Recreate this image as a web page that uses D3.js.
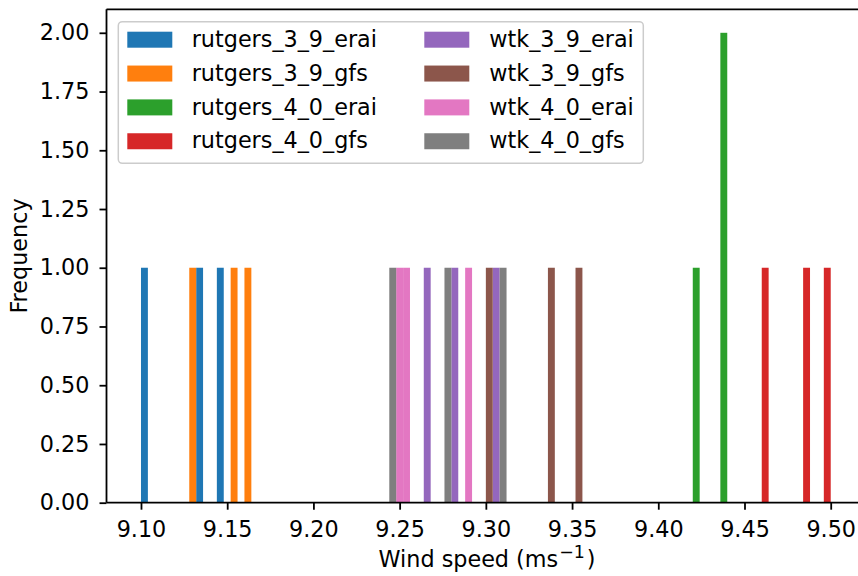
<!DOCTYPE html>
<html>
<head>
<meta charset="utf-8">
<script src="https://cdn.jsdelivr.net/npm/d3@7/dist/d3.min.js"></script>
<style>
  html, body { margin: 0; padding: 0; background: #ffffff; }
  svg { display: block; font-family: "DejaVu Sans", sans-serif; }
</style>
</head>
<body>
<div id="chart"></div>
<script>
// ---- Data (wind speeds, m/s) ----
const seriesNames = [
  "rutgers_3_9_erai", "rutgers_3_9_gfs", "rutgers_4_0_erai", "rutgers_4_0_gfs",
  "wtk_3_9_erai", "wtk_3_9_gfs", "wtk_4_0_erai", "wtk_4_0_gfs"
];
const rutgers_3_9_erai = [9.102, 9.134, 9.146];
const rutgers_3_9_gfs  = [9.130, 9.154, 9.162];
const rutgers_4_0_erai = [9.422, 9.438, 9.438];
const rutgers_4_0_gfs  = [9.462, 9.486, 9.498];
const wtk_3_9_erai     = [9.266, 9.282, 9.306];
const wtk_3_9_gfs      = [9.302, 9.338, 9.354];
const wtk_4_0_erai     = [9.250, 9.254, 9.290];
const wtk_4_0_gfs      = [9.246, 9.278, 9.310];
const seriesValues = [
  rutgers_3_9_erai, rutgers_3_9_gfs, rutgers_4_0_erai, rutgers_4_0_gfs,
  wtk_3_9_erai, wtk_3_9_gfs, wtk_4_0_erai, wtk_4_0_gfs
];
const colors = ["#1f77b4", "#ff7f0e", "#2ca02c", "#d62728",
                "#9467bd", "#8c564b", "#e377c2", "#7f7f7f"];
const binMin = 9.10, binMax = 9.50, binCount = 100;
const xTicks = [9.10, 9.15, 9.20, 9.25, 9.30, 9.35, 9.40, 9.45, 9.50];
const yTicks = [0, 0.25, 0.5, 0.75, 1.0, 1.25, 1.5, 1.75, 2.0];
const xLabel = "Wind speed (ms";
const xLabelSup = "\u22121";
const yLabel = "Frequency";

// ---- Layout ----
const W = 858, H = 576;
const FS = 22.3;
const plot = { left: 106.5, right: 865.2, top: 9.3, bottom: 502.7 };

const svg = d3.select("#chart").append("svg")
  .attr("width", W).attr("height", H);

const x = d3.scaleLinear().domain([9.08, 9.52]).range([plot.left, plot.right]);
const y = d3.scaleLinear().domain([0, 2.1]).range([plot.bottom, plot.top]);

const binW = (binMax - binMin) / binCount;
const thresholds = d3.range(1, binCount).map(i => binMin + i * binW);
const binner = d3.bin().domain([binMin, binMax]).thresholds(thresholds);

// clip to axes area
svg.append("clipPath").attr("id", "clip")
  .append("rect").attr("x", plot.left).attr("y", plot.top)
  .attr("width", plot.right - plot.left).attr("height", plot.bottom - plot.top);

const barsG = svg.append("g").attr("clip-path", "url(#clip)");
seriesValues.forEach((vals, i) => {
  const bins = binner(vals).filter(b => b.length > 0);
  barsG.append("g").selectAll("rect").data(bins).join("rect")
    .attr("x", b => x(b.x0))
    .attr("width", b => x(b.x1) - x(b.x0))
    .attr("y", b => y(b.length))
    .attr("height", b => y(0) - y(b.length))
    .attr("fill", colors[i]);
});

// ---- Axes ----
const xAxis = d3.axisBottom(x).tickValues(xTicks).tickFormat(d3.format(".2f"))
  .tickSize(7).tickPadding(11);
const gx = svg.append("g").attr("transform", `translate(0,${plot.bottom})`).call(xAxis);
const yAxis = d3.axisLeft(y).tickValues(yTicks).tickFormat(d3.format(".2f"))
  .tickSize(7).tickPadding(10);
const gy = svg.append("g").attr("transform", `translate(${plot.left},0)`).call(yAxis);

[gx, gy].forEach(g => {
  g.select(".domain").remove();
  g.selectAll(".tick line").attr("stroke", "#000").attr("stroke-width", 1.8);
  g.selectAll(".tick text").attr("fill", "#000")
    .style("font-size", FS + "px").style("font-family", "'DejaVu Sans', sans-serif");
});

// spines
const spines = svg.append("g").attr("stroke", "#000").attr("stroke-width", 1.8).attr("fill", "none");
spines.append("line").attr("x1", plot.left).attr("x2", plot.left)
  .attr("y1", plot.top).attr("y2", plot.bottom);
spines.append("line").attr("x1", plot.left).attr("x2", plot.right)
  .attr("y1", plot.bottom).attr("y2", plot.bottom);
spines.append("line").attr("x1", plot.left).attr("x2", plot.right)
  .attr("y1", plot.top).attr("y2", plot.top);
spines.append("line").attr("x1", plot.right).attr("x2", plot.right)
  .attr("y1", plot.top).attr("y2", plot.bottom);

// axis labels
const xl = svg.append("text")
  .attr("x", 487).attr("y", 567)
  .attr("text-anchor", "middle").style("font-size", FS + "px").attr("fill", "#000");
xl.append("tspan").text(xLabel);
xl.append("tspan").attr("dy", -9).attr("dx", 1).style("font-size", (FS * 0.78) + "px").text(xLabelSup);
xl.append("tspan").attr("dy", 9).attr("dx", 2).text(")");

svg.append("text")
  .attr("transform", `translate(27,${(plot.top + plot.bottom) / 2}) rotate(-90)`)
  .attr("text-anchor", "middle").style("font-size", FS + "px").attr("fill", "#000")
  .text(yLabel);

// ---- Legend ----
const leg = svg.append("g");
leg.append("rect").attr("x", 118.3).attr("y", 21.7).attr("width", 525).attr("height", 141.6)
  .attr("rx", 4).attr("ry", 4)
  .attr("fill", "#fff").attr("fill-opacity", 0.8)
  .attr("stroke", "#cccccc").attr("stroke-width", 1.5);
const colSwatchX = [127.3, 424.3];
const colTextX = [191.7, 489.3];
const rowY0 = 39.7, rowStep = 33.85;
seriesNames.forEach((name, i) => {
  const col = Math.floor(i / 4), row = i % 4;
  const cy = rowY0 + row * rowStep;
  leg.append("rect").attr("x", colSwatchX[col]).attr("y", cy - 8)
    .attr("width", 45).attr("height", 16).attr("fill", colors[i]);
  leg.append("text").attr("x", colTextX[col]).attr("y", cy).attr("dy", "0.32em")
    .style("font-size", FS + "px").attr("fill", "#000").text(name);
});
</script>
</body>
</html>
